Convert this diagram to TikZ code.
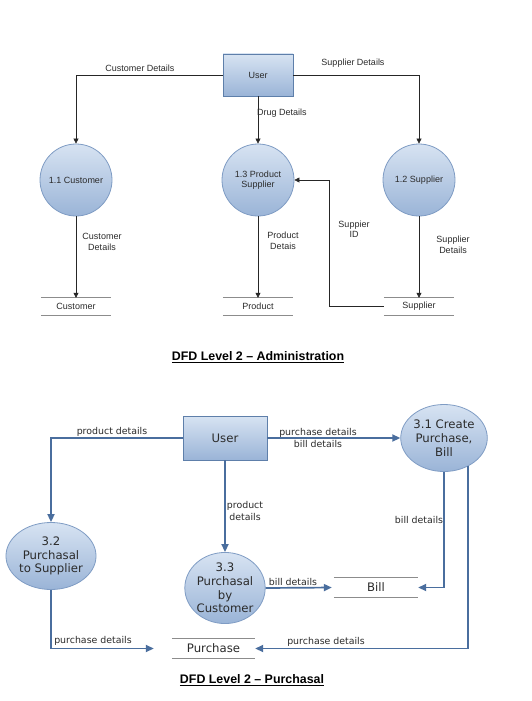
\documentclass[tikz,border=0pt]{standalone}
\usepackage{fontspec}
\setmainfont{Liberation Sans}
\newfontfamily\verd{DejaVu Sans}
\usetikzlibrary{arrows.meta,shapes.geometric,calc}
\definecolor{bluefillA}{HTML}{D7E3F2}
\definecolor{bluefillB}{HTML}{9AB4D7}
\definecolor{blueedge}{HTML}{7F9CC4}
\definecolor{boxedge}{HTML}{5E7FAA}
\definecolor{flowblue}{HTML}{4A6E9E}
\definecolor{txt}{HTML}{2B2B2B}
\definecolor{storeline}{HTML}{8C8C8C}
\tikzset{
  ent/.style={draw=boxedge, line width=0.9pt, top color=bluefillA, bottom color=bluefillB, text=txt},
  proc/.style={circle, draw=blueedge, line width=0.8pt, top color=bluefillA, bottom color=bluefillB, text=txt, align=center, inner sep=0pt},
  eproc/.style={ellipse, draw=blueedge, line width=0.8pt, top color=bluefillA, bottom color=bluefillB, text=txt, align=center, inner sep=0pt},
  storebox/.style={inner sep=0pt, text=txt},
  sline/.style={draw=storeline, line width=0.9pt},
  topflow/.style={draw=black!85, line width=0.6pt, -{Triangle[length=5pt,width=5pt]}},
  botflow/.style={draw=flowblue, line width=1.7pt, -{Triangle[length=8pt,width=7pt]}},
  lbl/.style={text=txt, align=center, inner sep=0pt},
  fA/.style={font=\fontsize{9}{10.5}\selectfont},
  fB/.style={font=\verd\fontsize{9.4}{11.2}\selectfont},
  fC/.style={font=\verd\fontsize{11.7}{13.8}\selectfont},
}
\begin{document}
\begin{tikzpicture}[x=1pt,y=-1pt]
\useasboundingbox (0,0) rectangle (532,701);
\fill[white] (0,0) rectangle (532,701);

% ---------- Administration ----------
\node[ent, fA, minimum width=70pt, minimum height=42pt] (U1) at (258,75) {User};
\node[proc, fA, minimum size=72pt] (C11) at (76,180) {1.1 Customer};
\node[proc, fA, minimum size=72pt] (C13) at (258,180) {1.3 Product\\Supplier};
\node[proc, fA, minimum size=72pt] (C12) at (419,180) {1.2 Supplier};

\node[storebox, fA, minimum width=70pt, minimum height=17pt] (S1) at (76,306.5) {Customer};
\node[storebox, fA, minimum width=70pt, minimum height=17pt] (S2) at (258,306.5) {Product};
\node[storebox, fA, minimum width=70pt, minimum height=17pt] (S3) at (419,306.5) {Supplier};
\foreach \s in {S1,S2,S3}{
  \draw[sline] (\s.north west) -- (\s.north east);
  \draw[sline] (\s.south west) -- (\s.south east);
}

\draw[topflow] (U1.west) -| (C11.north);
\draw[topflow] (U1.east) -| (C12.north);
\draw[topflow] (U1.south) -- (C13.north);
\draw[topflow] (C11.south) -- (S1.north);
\draw[topflow] (C13.south) -- (S2.north);
\draw[topflow] (C12.south) -- (S3.north);
\coordinate (sid) at (329,180);
\draw[topflow] (S3.west) -| (sid) -- (C13.east);

\node[lbl, fA] (l1) at (140,68) {Customer Details};
\node[lbl, fA] (l2) at (353,63) {Supplier Details};
\node[lbl, fA] (l3) at (282,113) {Drug Details};
\node[lbl, fA] (l4) at (102,242) {Customer\\Details};
\node[lbl, fA] (l5) at (283,241) {Product\\Detais};
\node[lbl, fA] (l6) at (354,229) {Suppier\\ID};
\node[lbl, fA] (l7) at (453,245) {Supplier\\Details};

\node[lbl, font=\bfseries\fontsize{12.4}{14}\selectfont, text=black] (t1) at (258,357) {\underline{DFD Level 2 -- Administration}};

% ---------- Purchasal ----------
\node[ent, fC, minimum width=84pt, minimum height=44pt] (U2) at (225,438) {User};
\node[eproc, fC, minimum width=78pt, minimum height=67pt] (P31) at (444,438) {3.1 Create\\Purchase,\\Bill};
\node[eproc, fC, minimum width=78pt, minimum height=67pt] (P32) at (51,556) {3.2\\Purchasal\\to Supplier};
\node[eproc, fC, minimum width=76pt, minimum height=68pt] (P33) at (225,588) {3.3\\Purchasal\\by\\Customer};

\node[storebox, fC, minimum width=84pt, minimum height=19pt] (B) at (376,587.5) {Bill};
\node[storebox, fC, minimum width=83pt, minimum height=19pt] (PU) at (213.5,648.5) {Purchase};
\foreach \s in {B,PU}{
  \draw[sline] (\s.north west) -- (\s.north east);
  \draw[sline] (\s.south west) -- (\s.south east);
}

\draw[botflow] (U2.west) -| (P32.north);
\draw[botflow] (U2.east) -- (P31.west);
\draw[botflow] (U2.south) -- (P33.north);
\draw[botflow, shorten >=2pt] (P33.east) -- (B.west);
\draw[botflow] (P31.south) |- (B.east);
\draw[botflow] (P31.-50) |- (PU.east);
\draw[botflow, shorten >=18pt] (P32.south) |- (PU.west);

\node[lbl, fB] (m1) at (112,432) {product details};
\node[lbl, fB] (m2) at (318,438) {purchase details\\bill details};
\node[lbl, fB] (m3) at (245,511) {product\\details};
\node[lbl, fB] (m4) at (293,582) {bill details};
\node[lbl, fB] (m5) at (419,520) {bill details};
\node[lbl, fB] (m6) at (326,642) {purchase details};
\node[lbl, fB] (m7) at (93,641) {purchase details};

\node[lbl, font=\bfseries\fontsize{12.4}{14}\selectfont, text=black] (t2) at (252,680) {\underline{DFD Level 2 -- Purchasal}};
\end{tikzpicture}
\end{document}
